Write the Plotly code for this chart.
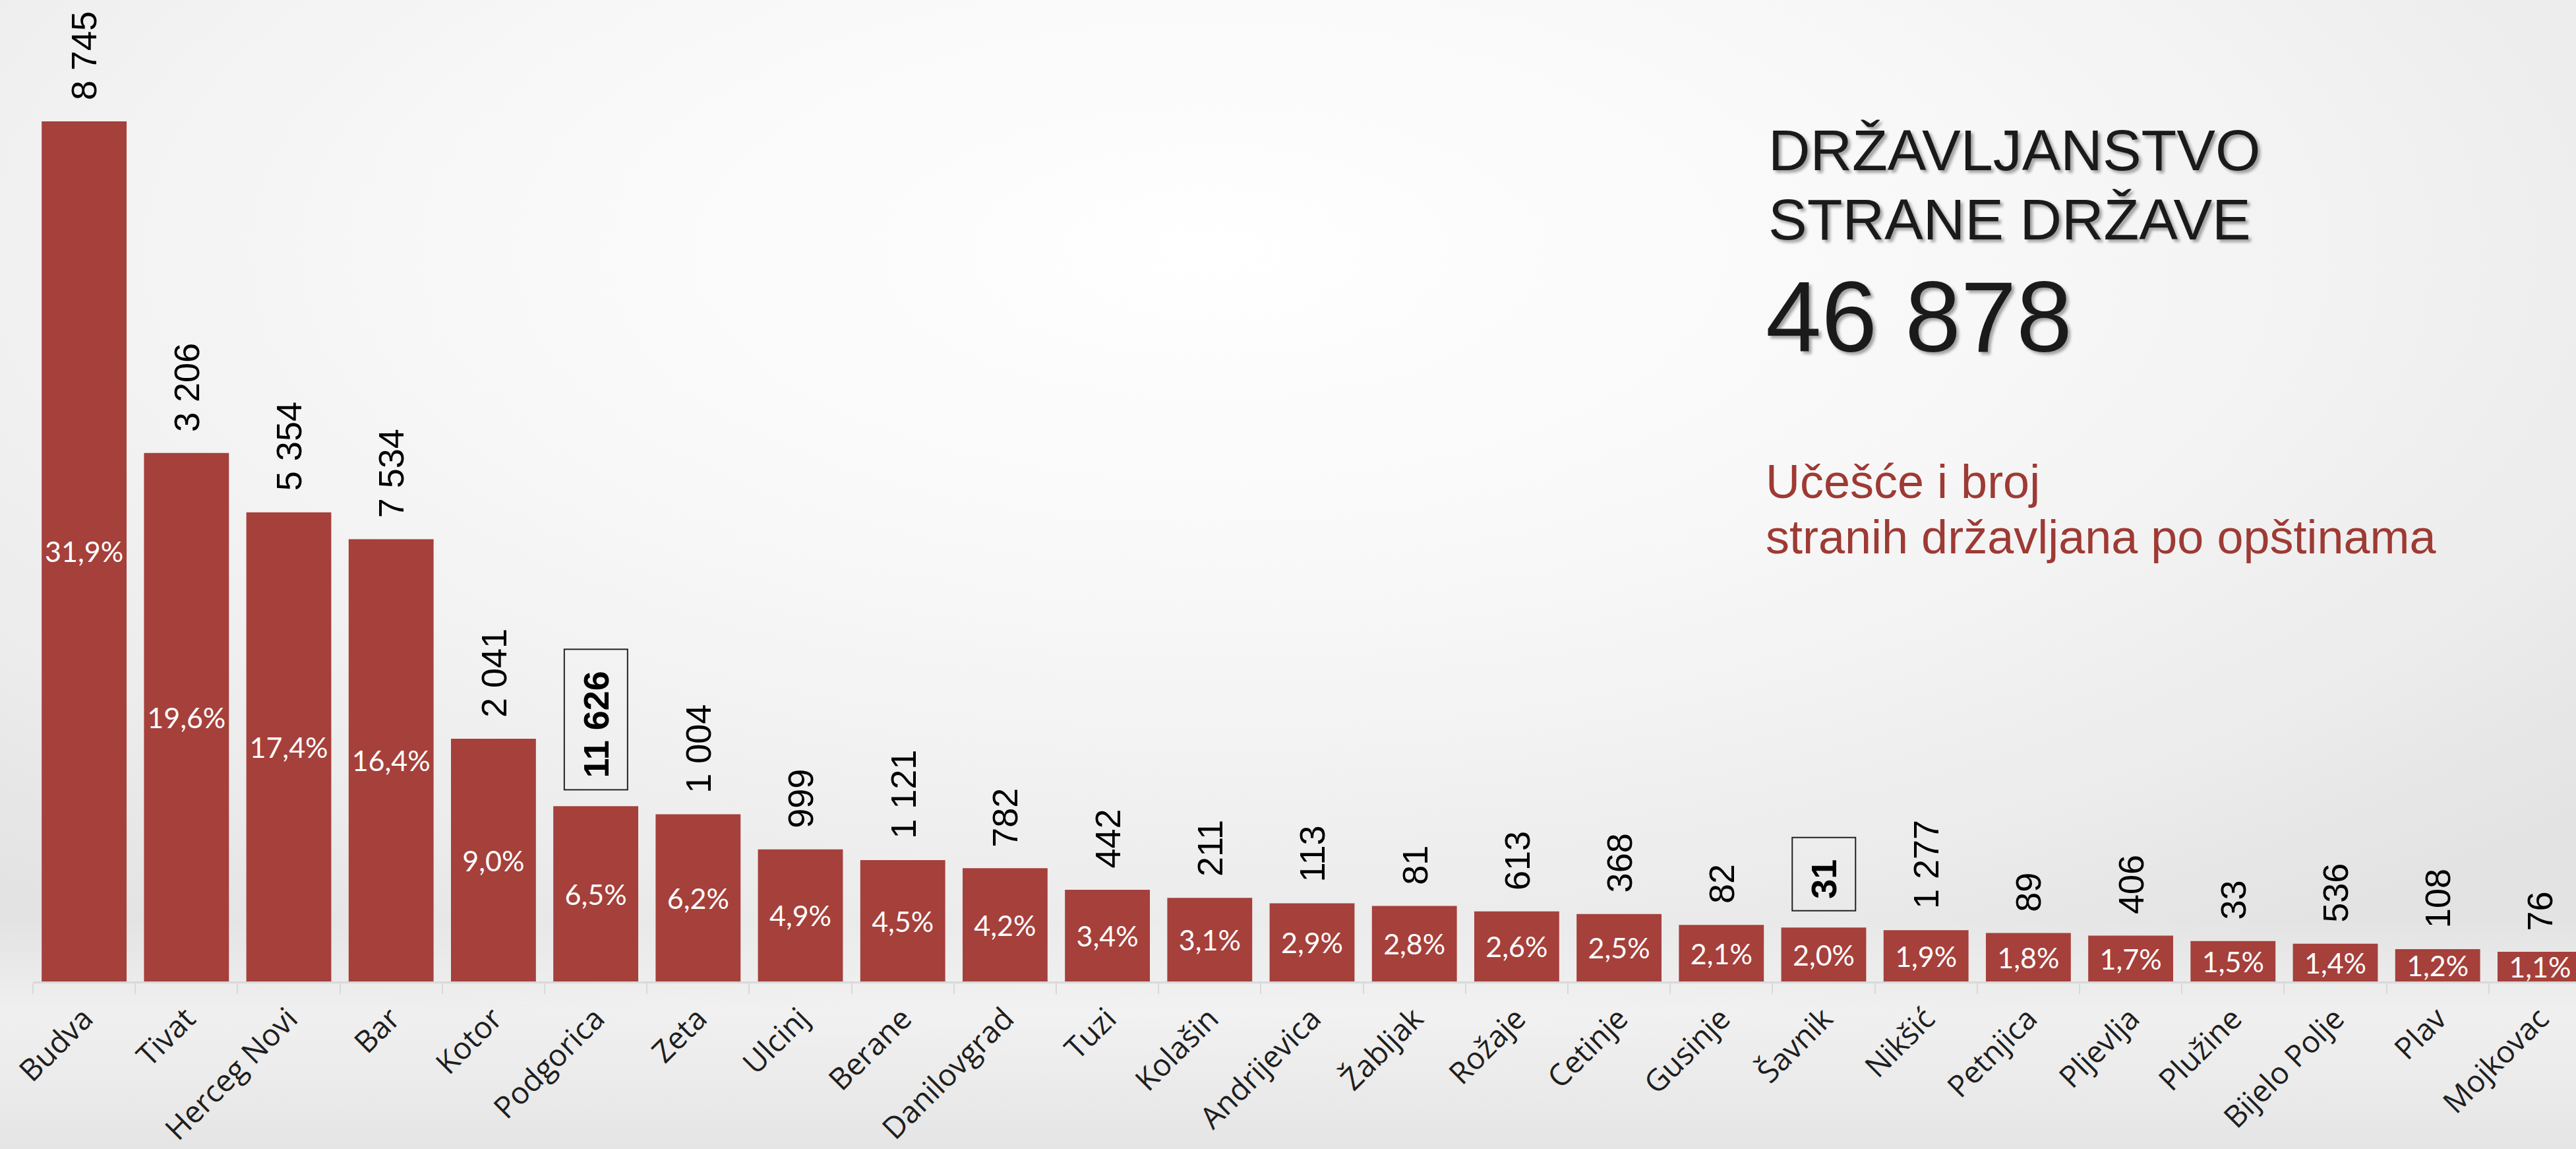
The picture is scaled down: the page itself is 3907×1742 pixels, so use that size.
import base64
import plotly.graph_objects as go

W, H = 3907, 1742

municipalities = ["Budva", "Tivat", "Herceg Novi", "Bar", "Kotor", "Podgorica", "Zeta", "Ulcinj",
                  "Berane", "Danilovgrad", "Tuzi", "Kolašin", "Andrijevica", "Žabljak", "Rožaje",
                  "Cetinje", "Gusinje", "Šavnik", "Nikšić", "Petnjica", "Pljevlja", "Plužine",
                  "Bijelo Polje", "Plav", "Mojkovac"]
share_pct = [31.9, 19.6, 17.4, 16.4, 9.0, 6.5, 6.2, 4.9, 4.5, 4.2, 3.4, 3.1, 2.9, 2.8, 2.6,
             2.5, 2.1, 2.0, 1.9, 1.8, 1.7, 1.5, 1.4, 1.2, 1.1]
count_foreign = [8745, 3206, 5354, 7534, 2041, 11626, 1004, 999, 1121, 782, 442, 211, 113, 81, 613,
                 368, 82, 31, 1277, 89, 406, 33, 536, 108, 76]
highlighted = ["Podgorica", "Šavnik"]
total_foreign = 46878

title_lines = ["DRŽAVLJANSTVO", "STRANE DRŽAVE"]
subtitle_lines = ["Učešće i broj", "stranih državljana po opštinama"]

BAR_COLOR = "#a5403b"
SUB_COLOR = "#9e3a34"


def fmt_int(n):
    return f"{n:,}".replace(",", " ")


pct_text = [f"{v:.1f}".replace(".", ",") + "%" for v in share_pct]

# layout geometry (pixels)
ML, MR, MT, MB = 50, 0, 0, 254
plot_w = W - ML - MR
plot_h = H - MT - MB
px_per_pct = 40.88
y_max = plot_h / px_per_pct
cat_px = 155.2
x_max = -0.5 + plot_w / cat_px

fig = go.Figure()
fig.add_trace(go.Bar(
    x=municipalities, y=share_pct, text=pct_text, texttemplate="%{text}",
    textposition="inside", insidetextanchor="middle", textangle=0,
    constraintext="none", cliponaxis=True,
    textfont=dict(family="Lato", size=43, color="white"),
    marker=dict(color=BAR_COLOR, line=dict(width=0)),
    hoverinfo="skip", showlegend=False,
))

annotations = []
for name, v, n in zip(municipalities, share_pct, count_foreign):
    hl = name in highlighted
    annotations.append(dict(
        x=name, y=v, xref="x", yref="y", showarrow=False,
        text=(f"<b>{fmt_int(n)}</b>&nbsp;" if hl else fmt_int(n)),
        textangle=-90, xanchor="center", yanchor="bottom",
        yshift=(24 if hl else 32),
        font=dict(family="Liberation Sans, Arial", size=54, color="#000000"),
        bordercolor=("#222222" if hl else "rgba(0,0,0,0)"),
        borderwidth=(2 if hl else 0), borderpad=(17 if hl else 0),
    ))


def px_x(p):
    return (p - ML) / plot_w


def px_y(p):
    return (H - MB - p) / plot_h


shadow = "4px 4px 4px rgba(0,0,0,0.35)"
title_font = dict(family="Liberation Sans, Arial", size=88, color="#1a1a1a", shadow=shadow)
for line, cy in zip(title_lines, [228, 333]):
    annotations.append(dict(x=px_x(2680), y=px_y(cy), xref="paper", yref="paper", showarrow=False,
                            text=line, xanchor="left", yanchor="middle", align="left", font=title_font))
annotations.append(dict(x=px_x(2676), y=px_y(480), xref="paper", yref="paper", showarrow=False,
                        text=fmt_int(total_foreign), xanchor="left", yanchor="middle", align="left",
                        font=dict(family="Liberation Sans, Arial", size=152, color="#1a1a1a", shadow=shadow)))
for line, cy in zip(subtitle_lines, [730, 814]):
    annotations.append(dict(x=px_x(2676), y=px_y(cy), xref="paper", yref="paper", showarrow=False,
                            text=line, xanchor="left", yanchor="middle", align="left",
                            font=dict(family="Liberation Sans, Arial", size=72, color=SUB_COLOR)))

svg = f'''<svg xmlns="http://www.w3.org/2000/svg" width="{W}" height="{H}" viewBox="0 0 {W} {H}" preserveAspectRatio="none">
<defs>
<radialGradient id="g" cx="0.47" cy="0.22" r="0.72">
<stop offset="0" stop-color="#ffffff"/>
<stop offset="0.45" stop-color="#f7f7f7"/>
<stop offset="0.8" stop-color="#ececec"/>
<stop offset="1" stop-color="#e3e3e3"/>
</radialGradient>
<linearGradient id="b" x1="0" y1="0" x2="0" y2="1">
<stop offset="0" stop-color="#ffffff" stop-opacity="0"/>
<stop offset="0.80" stop-color="#ffffff" stop-opacity="0"/>
<stop offset="0.88" stop-color="#ffffff" stop-opacity="0.45"/>
<stop offset="1" stop-color="#e6e6e6" stop-opacity="0.6"/>
</linearGradient>
</defs>
<rect width="{W}" height="{H}" fill="url(#g)"/>
<rect width="{W}" height="{H}" fill="url(#b)"/>
</svg>'''
bg_src = "data:image/svg+xml;base64," + base64.b64encode(svg.encode("utf-8")).decode("ascii")

fig.update_layout(
    width=W, height=H, autosize=False,
    margin=dict(l=ML, r=MR, t=MT, b=MB, pad=0, autoexpand=False),
    paper_bgcolor="#efefef", plot_bgcolor="rgba(0,0,0,0)",
    bargap=0.17, showlegend=False,
    annotations=annotations,
    images=[dict(source=bg_src, xref="paper", yref="paper",
                 x=-ML / plot_w, y=1 + MT / plot_h, sizex=W / plot_w, sizey=H / plot_h,
                 xanchor="left", yanchor="top", sizing="stretch", layer="below", opacity=1)],
    xaxis=dict(range=[-0.5, x_max], showgrid=False, zeroline=False, automargin=False,
               showline=True, linecolor="#d9d9d9", linewidth=3,
               ticks="outside", tickson="boundaries", ticklen=16, tickwidth=2, tickcolor="#d9d9d9",
               tickangle=-45, ticklabelstandoff=8,
               tickfont=dict(family="Open Sans", size=46, color="#1e1e1e")),
    yaxis=dict(range=[0, y_max], visible=False, showgrid=False, zeroline=False, automargin=False),
)

fig.write_html("out.html", config={"displayModeBar": False},
               post_script="document.body.style.margin='0';document.body.style.overflow='hidden';")
